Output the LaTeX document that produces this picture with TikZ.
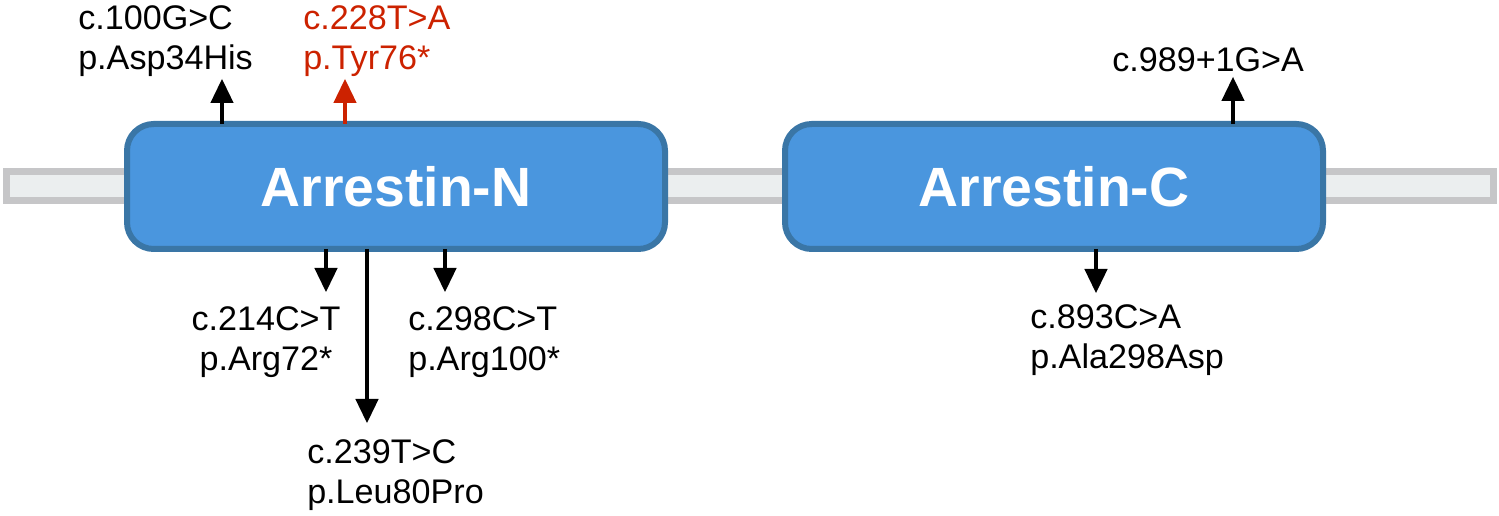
\documentclass[tikz,border=0pt]{standalone}
\usepackage{fontspec}
\setmainfont{Liberation Sans}
\usetikzlibrary{arrows.meta}
\definecolor{boxfill}{RGB}{74,150,222}
\definecolor{boxline}{RGB}{58,118,166}
\definecolor{barfill}{RGB}{235,238,239}
\definecolor{barline}{RGB}{198,198,200}
\definecolor{mutred}{RGB}{204,34,0}
\begin{document}
\begin{tikzpicture}[x=0.75pt,y=-0.75pt,
  protdomain/.style={draw=boxline, fill=boxfill, line width=4.5pt, rounded corners=20pt,
    minimum width=403.5pt, minimum height=93.75pt, inner sep=0pt, outer sep=0pt,
    text=white, font=\fontsize{41.5}{49}\selectfont\bfseries},
  linker/.style={draw=barline, fill=barfill, line width=5.25pt, inner sep=0pt, outer sep=0pt,
    minimum width=1115.25pt, minimum height=21.75pt},
  mut/.style={-{Triangle[length=18pt,width=17.5pt,line width=0pt]}, line width=3pt},
  lab/.style={font=\fontsize{25.6}{30}\selectfont, inner sep=0pt, align=left, anchor=north west}]
\useasboundingbox (0,0) rectangle (1499,516);
% linker bar
\node[linker] (bar) at (750,186) {};
% mutation arrow tips
\coordinate (t1) at (222,79);
\coordinate (t2) at (345,79);
\coordinate (t3) at (1233,77);
\coordinate (b1) at (326,292);
\coordinate (b2) at (367,423);
\coordinate (b3) at (445,292);
\coordinate (b4) at (1096,293);
% domains
\node[protdomain] (N) at (396,186.5) {Arrestin-N};
\node[protdomain] (C) at (1054,186.5) {Arrestin-C};
% arrows
\draw[mut] (N.north -| t1) -- (t1);
\draw[mut, mutred] (N.north -| t2) -- (t2);
\draw[mut] (C.north -| t3) -- (t3);
\draw[mut] (N.south -| b1) -- (b1);
\draw[mut] (N.south -| b2) -- (b2);
\draw[mut] (N.south -| b3) -- (b3);
\draw[mut] (C.south -| b4) -- (b4);
% labels
\node[lab] (l1) at (78,5) {c.100G>C\\p.Asp34His};
\node[lab, text=mutred] (l2) at (303,5) {c.228T>A\\p.Tyr76*};
\node[lab] (l3) at (1112,47) {c.989+1G>A};
\node[lab, align=center, anchor=north] (l4) at (266,306) {c.214C>T\\p.Arg72*};
\node[lab] (l5) at (408,306) {c.298C>T\\p.Arg100*};
\node[lab] (l6) at (307,439) {c.239T>C\\p.Leu80Pro};
\node[lab] (l7) at (1030,304) {c.893C>A\\p.Ala298Asp};
\end{tikzpicture}
\end{document}
